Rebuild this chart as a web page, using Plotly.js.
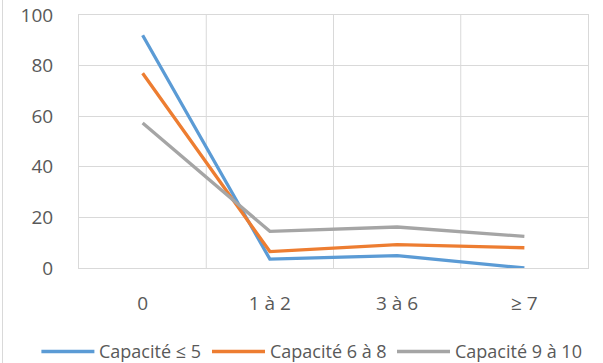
<!DOCTYPE html>
<html>
<head>
<meta charset="utf-8">
<script src="https://cdn.plot.ly/plotly-3.0.1.min.js"></script>
<style>
html,body{margin:0;padding:0;background:#fff;}
#wrap{position:relative;width:603px;height:363px;}
#chart{position:absolute;left:0;top:0;width:603px;height:363px;}
#edge{position:absolute;left:2px;top:0;width:1px;height:363px;background:#d9d9d9;}
</style>
</head>
<body>
<div id="wrap"><div id="chart"></div><div id="edge"></div></div>
<script>
const categories = ["0", "1 à 2", "3 à 6", "≥ 7"];
const seriesNames = ["Capacité ≤ 5", "Capacité 6 à 8", "Capacité 9 à 10"];
const capLe5 = [92, 3.5, 4.9, 0];
const cap6to8 = [77, 6.5, 9.2, 8.0];
const cap9to10 = [57.3, 14.5, 16.2, 12.5];
const colors = ["#5B9BD5", "#ED7D31", "#A5A5A5"];
const yTicks = [0, 20, 40, 60, 80, 100];

const seriesValues = [capLe5, cap6to8, cap9to10];

const W = 603, H = 363, ML = 79, MR = 15, MT = 15, MB = 95;
const PW = W - ML - MR, PH = H - MT - MB;
const px2x = p => (p - ML) / PW;
const py2y = p => (H - MB - p) / PH;

const traces = seriesValues.map((vals, i) => ({
  x: categories,
  y: vals,
  name: seriesNames[i],
  type: 'scatter',
  mode: 'lines',
  line: {color: colors[i], width: 3.3},
  showlegend: false,
  hoverinfo: 'skip'
}));

const font = {family: '"Open Sans", sans-serif', size: 18, color: '#595959'};
const tickFont = {family: '"Open Sans", sans-serif', size: 19, color: '#595959'};

// manual legend (long line samples like the original)
const legStarts = [41.4, 212, 397];
const legLen = 53;
const legY = 351.5;
const shapes = [];
const annotations = [];
seriesNames.forEach((n, i) => {
  shapes.push({
    type: 'line', xref: 'paper', yref: 'paper',
    x0: px2x(legStarts[i]), x1: px2x(legStarts[i] + legLen),
    y0: py2y(legY), y1: py2y(legY),
    line: {color: colors[i], width: 3.3}
  });
  annotations.push({
    xref: 'paper', yref: 'paper',
    x: px2x(legStarts[i] + legLen + 3), y: py2y(legY - 1),
    xanchor: 'left', yanchor: 'middle',
    text: n, showarrow: false, font: font
  });
});

const layout = {
  width: W, height: H,
  margin: {l: ML, r: MR, t: MT, b: MB, pad: 0},
  paper_bgcolor: '#ffffff',
  plot_bgcolor: '#ffffff',
  font: font,
  showlegend: false,
  xaxis: {
    type: 'category',
    range: [-0.5, categories.length - 0.5],
    showgrid: false,
    showline: true, linecolor: '#d9d9d9', linewidth: 1, mirror: true,
    ticks: '', ticklabelstandoff: 18,
    tickfont: tickFont,
    zeroline: false
  },
  yaxis: {
    range: [0, 100],
    tickvals: yTicks,
    ticktext: yTicks.map(String),
    showgrid: true, gridcolor: '#d9d9d9', gridwidth: 1,
    showline: true, linecolor: '#d9d9d9', linewidth: 1, mirror: true,
    zeroline: false,
    ticks: '', ticklabelstandoff: 21,
    tickfont: tickFont
  },
  shapes: shapes.concat(categories.slice(1).map((c, i) => ({
    type: 'line', xref: 'x', yref: 'paper',
    x0: i + 0.5, x1: i + 0.5, y0: 0, y1: 1,
    line: {color: '#d9d9d9', width: 1}, layer: 'below'
  }))),
  annotations: annotations
};

Plotly.newPlot('chart', traces, layout, {staticPlot: true, displayModeBar: false});
</script>
</body>
</html>
